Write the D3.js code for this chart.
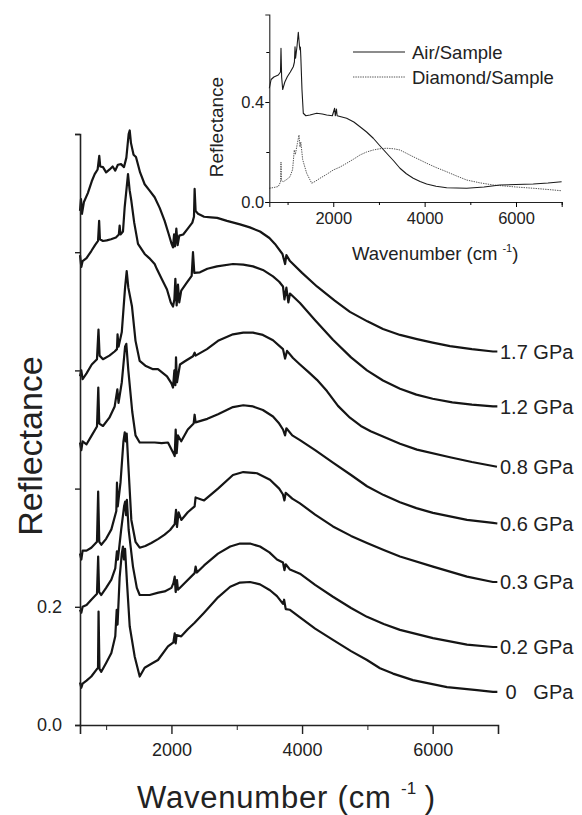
<!DOCTYPE html>
<html>
<head>
<meta charset="utf-8">
<script src="https://cdn.jsdelivr.net/npm/d3@7"></script>
<style>
  body { margin: 0; background: #fff; }
  svg { display: block; font-family: "Liberation Sans", Arial, Helvetica, sans-serif; }
</style>
</head>
<body>
<svg id="chart" width="582" height="815"></svg>
<script>
// spectra: [wavenumber, reflectance]
// main panel curves are drawn with their vertical offsets already included

var gpa17 = [[600,0.87],[615,0.89],[630,0.865],[660,0.885],[720,0.9],[780,0.92],[825,0.932],[870,0.94],[895,0.963],[910,0.945],[952,0.944],[1000,0.935],[1054,0.94],[1100,0.945],[1140,0.938],[1180,0.948],[1228,0.949],[1274,0.944],[1310,0.96],[1345,1.0],[1361,1.006],[1380,0.985],[1420,0.965],[1457,0.961],[1520,0.935],[1590,0.915],[1660,0.905],[1743,0.893],[1820,0.875],[1896,0.853],[1960,0.83],[2000,0.815],[2024,0.808],[2040,0.83],[2055,0.81],[2075,0.84],[2095,0.812],[2120,0.828],[2180,0.83],[2250,0.84],[2320,0.85],[2345,0.86],[2355,0.907],[2370,0.87],[2407,0.865],[2500,0.86],[2605,0.859],[2700,0.858],[2850,0.853],[3050,0.847],[3200,0.842],[3356,0.835],[3500,0.824],[3585,0.814],[3700,0.797],[3740,0.78],[3760,0.795],[3815,0.785],[4000,0.765],[4228,0.742],[4500,0.718],[4733,0.699],[5000,0.683],[5239,0.67],[5500,0.66],[5759,0.653],[6000,0.647],[6265,0.641],[6600,0.636],[6923,0.632],[6990,0.632]];

var gpa12 = [[600,0.795],[620,0.775],[640,0.785],[700,0.79],[773,0.802],[830,0.812],[876,0.819],[893,0.853],[905,0.822],[952,0.819],[1010,0.82],[1075,0.822],[1150,0.825],[1195,0.83],[1207,0.845],[1220,0.83],[1258,0.835],[1284,0.876],[1335,0.932],[1360,0.905],[1386,0.887],[1430,0.85],[1488,0.814],[1590,0.797],[1660,0.79],[1743,0.78],[1779,0.771],[1850,0.755],[1932,0.737],[1990,0.715],[2024,0.708],[2045,0.72],[2060,0.755],[2080,0.71],[2100,0.745],[2120,0.715],[2150,0.735],[2238,0.749],[2310,0.76],[2330,0.8],[2350,0.765],[2437,0.766],[2550,0.772],[2697,0.776],[2942,0.78],[3100,0.779],[3249,0.776],[3400,0.77],[3555,0.759],[3650,0.75],[3708,0.742],[3730,0.72],[3760,0.74],[3790,0.715],[3815,0.73],[3968,0.714],[4200,0.685],[4473,0.652],[4750,0.622],[4994,0.6],[5239,0.583],[5500,0.569],[5750,0.559],[6000,0.552],[6300,0.546],[6600,0.542],[6923,0.539],[6990,0.539]];

var gpa08 = [[600,0.59],[620,0.6],[640,0.585],[700,0.595],[780,0.61],[860,0.619],[883,0.669],[900,0.625],[952,0.619],[1050,0.625],[1130,0.632],[1166,0.636],[1175,0.661],[1190,0.64],[1240,0.665],[1290,0.74],[1315,0.768],[1340,0.74],[1396,0.708],[1450,0.65],[1514,0.616],[1600,0.608],[1718,0.602],[1794,0.602],[1932,0.59],[2000,0.578],[2024,0.571],[2045,0.6],[2060,0.575],[2070,0.622],[2085,0.58],[2131,0.61],[2200,0.615],[2330,0.624],[2355,0.63],[2370,0.625],[2544,0.636],[2713,0.65],[2942,0.661],[3100,0.664],[3249,0.664],[3400,0.66],[3555,0.651],[3708,0.636],[3740,0.62],[3770,0.633],[3861,0.621],[3968,0.61],[4100,0.597],[4228,0.584],[4381,0.565],[4550,0.54],[4733,0.52],[4900,0.506],[5050,0.497],[5239,0.488],[5500,0.476],[5759,0.466],[6265,0.453],[6600,0.445],[6984,0.437]];

var gpa06 = [[600,0.478],[620,0.465],[640,0.48],[700,0.475],[780,0.49],[860,0.505],[880,0.571],[895,0.51],[952,0.506],[1050,0.52],[1131,0.539],[1172,0.568],[1190,0.545],[1240,0.58],[1290,0.64],[1309,0.645],[1340,0.6],[1400,0.53],[1450,0.49],[1514,0.478],[1600,0.478],[1743,0.478],[1850,0.477],[1947,0.478],[2030,0.46],[2050,0.455],[2065,0.5],[2080,0.46],[2100,0.49],[2150,0.48],[2250,0.5],[2340,0.51],[2355,0.525],[2370,0.512],[2550,0.518],[2713,0.526],[2942,0.538],[3100,0.541],[3249,0.539],[3400,0.533],[3555,0.522],[3650,0.51],[3708,0.5],[3740,0.49],[3760,0.502],[3850,0.49],[3968,0.482],[4200,0.465],[4473,0.444],[4750,0.423],[4994,0.404],[5250,0.389],[5499,0.377],[5750,0.367],[6004,0.359],[6525,0.347],[6923,0.342],[6990,0.341]];

var gpa03 = [[600,0.29],[620,0.28],[640,0.295],[700,0.295],[773,0.3],[860,0.31],[878,0.395],[895,0.31],[926,0.305],[1000,0.315],[1080,0.331],[1156,0.362],[1166,0.41],[1178,0.37],[1220,0.41],[1265,0.48],[1285,0.495],[1300,0.48],[1315,0.493],[1340,0.44],[1386,0.347],[1450,0.31],[1514,0.3],[1600,0.303],[1692,0.308],[1800,0.315],[1896,0.322],[1980,0.33],[2050,0.34],[2070,0.364],[2085,0.335],[2110,0.36],[2151,0.347],[2250,0.36],[2355,0.37],[2370,0.385],[2500,0.38],[2713,0.4],[2942,0.423],[3100,0.428],[3310,0.426],[3509,0.415],[3650,0.4],[3708,0.39],[3730,0.38],[3750,0.393],[3850,0.383],[3968,0.375],[4200,0.356],[4473,0.336],[4750,0.32],[4994,0.308],[5250,0.296],[5499,0.285],[6004,0.268],[6525,0.251],[6923,0.242],[6990,0.242]];

var gpa02 = [[600,0.195],[620,0.19],[640,0.2],[700,0.203],[773,0.212],[860,0.222],[878,0.285],[893,0.225],[926,0.22],[1000,0.232],[1080,0.246],[1140,0.265],[1165,0.294],[1180,0.28],[1230,0.33],[1275,0.37],[1292,0.378],[1305,0.355],[1318,0.381],[1345,0.33],[1411,0.268],[1470,0.232],[1514,0.22],[1667,0.22],[1800,0.224],[1896,0.226],[2000,0.232],[2030,0.24],[2050,0.251],[2065,0.225],[2085,0.245],[2100,0.229],[2200,0.24],[2355,0.257],[2370,0.268],[2390,0.258],[2500,0.27],[2713,0.29],[2900,0.302],[3050,0.307],[3203,0.307],[3356,0.302],[3500,0.292],[3616,0.28],[3708,0.275],[3730,0.262],[3750,0.272],[3815,0.263],[3968,0.256],[4200,0.237],[4473,0.217],[4750,0.198],[4994,0.183],[5250,0.171],[5499,0.161],[6004,0.147],[6525,0.136],[6923,0.132],[6990,0.132]];

var gpa00 = [[600,0.072],[620,0.063],[640,0.07],[700,0.075],[773,0.082],[876,0.097],[884,0.192],[898,0.095],[926,0.09],[1000,0.105],[1080,0.122],[1140,0.15],[1162,0.195],[1175,0.17],[1207,0.25],[1240,0.29],[1258,0.302],[1272,0.28],[1290,0.298],[1320,0.24],[1361,0.167],[1437,0.116],[1514,0.082],[1590,0.097],[1700,0.104],[1794,0.11],[1947,0.133],[2030,0.14],[2050,0.155],[2065,0.138],[2080,0.152],[2150,0.15],[2250,0.162],[2355,0.173],[2500,0.19],[2713,0.216],[2900,0.234],[3050,0.241],[3203,0.242],[3356,0.238],[3509,0.228],[3616,0.218],[3708,0.205],[3725,0.212],[3750,0.196],[3815,0.195],[3968,0.182],[4200,0.163],[4473,0.144],[4750,0.125],[4994,0.11],[5193,0.096],[5392,0.087],[5698,0.076],[6219,0.064],[6678,0.059],[6923,0.056],[6990,0.056]];

var mainSeries = [gpa17, gpa12, gpa08, gpa06, gpa03, gpa02, gpa00];
var pressureLabels = ["1.7 GPa", "1.2 GPa", "0.8 GPa", "0.6 GPa", "0.3 GPa", "0.2 GPa", " 0   GPa"];

// inset
var airSample = [[600,0.455],[640,0.49],[700,0.5],[797,0.508],[845,0.52],[856,0.615],[870,0.5],[893,0.45],[940,0.48],[994,0.501],[1060,0.52],[1125,0.541],[1150,0.56],[1163,0.621],[1175,0.575],[1205,0.62],[1235,0.679],[1262,0.62],[1272,0.608],[1280,0.62],[1290,0.58],[1315,0.45],[1344,0.355],[1400,0.345],[1490,0.348],[1637,0.355],[1760,0.352],[1856,0.348],[1980,0.345],[2030,0.375],[2045,0.345],[2070,0.372],[2085,0.345],[2293,0.335],[2450,0.32],[2585,0.301],[2730,0.28],[2876,0.255],[3020,0.225],[3169,0.195],[3320,0.165],[3460,0.135],[3600,0.113],[3751,0.095],[3900,0.082],[4044,0.072],[4250,0.063],[4482,0.057],[4919,0.055],[5300,0.06],[5648,0.068],[6000,0.07],[6377,0.072],[6700,0.076],[6998,0.081]];

var diamondSample = [[600,0.055],[700,0.058],[797,0.062],[845,0.08],[856,0.16],[868,0.085],[906,0.081],[980,0.09],[1053,0.101],[1110,0.13],[1147,0.208],[1170,0.19],[1215,0.235],[1250,0.268],[1272,0.22],[1290,0.24],[1330,0.17],[1418,0.115],[1528,0.075],[1600,0.082],[1710,0.095],[1850,0.11],[2000,0.128],[2150,0.14],[2293,0.155],[2450,0.172],[2585,0.188],[2730,0.2],[2876,0.208],[3020,0.213],[3169,0.215],[3320,0.213],[3460,0.208],[3600,0.195],[3751,0.181],[3900,0.168],[4044,0.155],[4250,0.138],[4482,0.121],[4700,0.104],[4919,0.088],[5200,0.077],[5501,0.068],[6000,0.06],[6377,0.055],[6700,0.05],[6998,0.045]];

var legendNames = ["Air/Sample", "Diamond/Sample"];

var xMajorTicks = [2000, 4000, 6000];
var xMinorTicks = [1000, 3000, 5000, 7000];
var mainYTicks = [0, 0.2, 0.4, 0.6, 0.8, 1.0];
var mainYTickLabels = ["0.0", "0.2", "", "", "", ""];
var insetYMajor = [0, 0.4];
var insetYMinor = [0.2, 0.6];

var svg = d3.select("#chart");

// ---------- main panel ----------
var x = d3.scaleLinear().domain([600, 7000]).range([80, 498]);
var y = d3.scaleLinear().domain([0, 1.0]).range([725, 134]);

var line = d3.line()
    .x(function (d) { return x(d[0]); })
    .y(function (d) { return y(d[1]); });

svg.append("g")
    .selectAll("path")
    .data(mainSeries)
    .join("path")
    .attr("d", line)
    .attr("fill", "none")
    .attr("stroke", "#151515")
    .attr("stroke-width", 2.2)
    .attr("stroke-linejoin", "round");

// pressure labels sit at the end of each curve
svg.append("g")
    .selectAll("text")
    .data(mainSeries)
    .join("text")
    .attr("x", 500)
    .attr("y", function (d) { return y(d[d.length - 1][1]); })
    .attr("dy", "0.36em")
    .style("white-space", "pre")
    .attr("font-size", 20)
    .attr("fill", "#222")
    .text(function (d, i) { return pressureLabels[i]; });

var xAxisMajor = svg.append("g")
    .attr("transform", "translate(0,725)")
    .call(d3.axisBottom(x).tickValues(xMajorTicks).tickSize(9).tickPadding(9).tickFormat(d3.format("d")));
svg.append("g")
    .attr("transform", "translate(0,725)")
    .call(d3.axisBottom(x).tickValues(xMinorTicks).tickSize(5).tickFormat(""))
    .select(".domain").remove();

var yAxis = svg.append("g")
    .attr("transform", "translate(80,0)")
    .call(d3.axisLeft(y).tickValues(mainYTicks).tickSize(5).tickPadding(13)
        .tickFormat(function (d, i) { return mainYTickLabels[i]; }));

[xAxisMajor, yAxis].forEach(function (g) {
    g.select(".domain").attr("stroke-width", 1.6).attr("stroke", "#222");
    g.selectAll(".tick line").attr("stroke-width", 1.4).attr("stroke", "#222");
    g.selectAll(".tick text").attr("font-size", 18).attr("fill", "#222")
        .attr("font-family", "'Liberation Sans', Arial, sans-serif");
});
svg.selectAll("g .tick line").attr("stroke", "#222");

// axis titles
svg.append("text")
    .attr("transform", "translate(42,446) rotate(-90)")
    .attr("text-anchor", "middle")
    .attr("font-size", 34)
    .attr("fill", "#222")
    .text("Reflectance");

var xt = svg.append("text")
    .attr("x", 137)
    .attr("y", 808)
    .attr("font-size", 31)
    .attr("fill", "#222");
xt.append("tspan").attr("letter-spacing", 0.8).text("Wavenumber (cm ");
xt.append("tspan").attr("font-size", 17).attr("dy", -14).text("-1");
xt.append("tspan").attr("dy", 14).text(" )");

// ---------- inset ----------
var ix = d3.scaleLinear().domain([600, 7000]).range([269.3, 561.7]);
var iy = d3.scaleLinear().domain([0, 0.75]).range([202, 14.5]);

var iline = d3.line()
    .x(function (d) { return ix(d[0]); })
    .y(function (d) { return iy(d[1]); });

svg.append("path")
    .datum(diamondSample)
    .attr("d", iline)
    .attr("fill", "none")
    .attr("stroke", "#555")
    .attr("stroke-width", 1)
    .attr("stroke-dasharray", "1.4,1");

svg.append("path")
    .datum(airSample)
    .attr("d", iline)
    .attr("fill", "none")
    .attr("stroke", "#1a1a1a")
    .attr("stroke-width", 1.1)
    .attr("stroke-linejoin", "round");

var ixAxis = svg.append("g")
    .attr("transform", "translate(0,202)")
    .call(d3.axisBottom(ix).tickValues(xMajorTicks).tickSize(5).tickPadding(5).tickFormat(d3.format("d")));
svg.append("g")
    .attr("transform", "translate(0,202)")
    .call(d3.axisBottom(ix).tickValues(xMinorTicks).tickSize(3).tickFormat(""))
    .select(".domain").remove();
var iyAxis = svg.append("g")
    .attr("transform", "translate(269.3,0)")
    .call(d3.axisLeft(iy).tickValues(insetYMajor).tickSize(4).tickPadding(1).tickFormat(d3.format(".1f")));
svg.append("g")
    .attr("transform", "translate(269.3,0)")
    .call(d3.axisLeft(iy).tickValues(insetYMinor).tickSize(3).tickFormat(""))
    .select(".domain").remove();

[ixAxis, iyAxis].forEach(function (g) {
    g.select(".domain").attr("stroke-width", 1.1).attr("stroke", "#222");
    g.selectAll(".tick text").attr("font-size", 16.5).attr("fill", "#222")
        .attr("font-family", "'Liberation Sans', Arial, sans-serif");
});

svg.append("text")
    .attr("transform", "translate(223,127) rotate(-90)")
    .attr("text-anchor", "middle")
    .attr("font-size", 19)
    .attr("fill", "#222")
    .text("Reflectance");

var ixt = svg.append("text")
    .attr("x", 352)
    .attr("y", 260)
    .attr("font-size", 18.5)
    .attr("fill", "#222");
ixt.append("tspan").text("Wavenumber (cm ");
ixt.append("tspan").attr("font-size", 11).attr("dy", -8).text("-1");
ixt.append("tspan").attr("dy", 8).text(")");

// legend
var legend = svg.append("g")
    .selectAll("g")
    .data(legendNames)
    .join("g")
    .attr("transform", function (d, i) { return "translate(353," + (52 + i * 25) + ")"; });
legend.append("line")
    .attr("x1", 0).attr("x2", 52)
    .attr("stroke", function (d, i) { return i ? "#555" : "#1a1a1a"; })
    .attr("stroke-width", function (d, i) { return i ? 1 : 1.1; })
    .attr("stroke-dasharray", function (d, i) { return i ? "1.4,1" : null; });
legend.append("text")
    .attr("x", 59)
    .attr("dy", "0.36em")
    .attr("font-size", 18.5)
    .attr("fill", "#222")
    .text(function (d) { return d; });
</script>
</body>
</html>
